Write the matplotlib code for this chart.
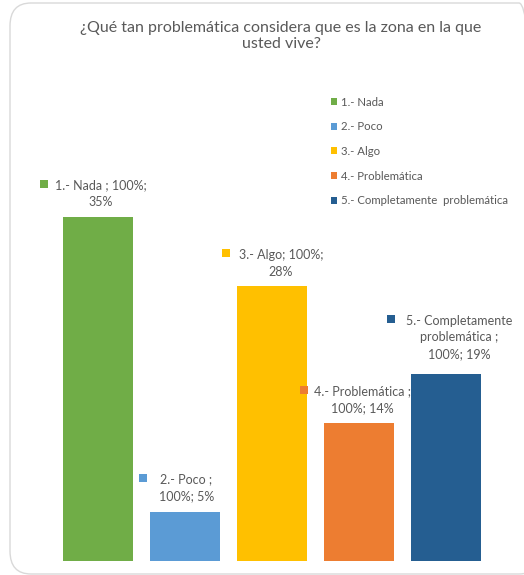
import matplotlib
matplotlib.use("Agg")
import matplotlib.pyplot as plt
from matplotlib.patches import FancyBboxPatch
from matplotlib.transforms import ScaledTranslation

plt.rcParams['font.family'] = ['Lato', 'DejaVu Sans']

categories = ["1.- Nada", "2.- Poco", "3.- Algo", "4.- Problemática", "5.- Completamente  problemática"]
values = [35, 5, 28, 14, 19]
label_texts = [
    "1.- Nada ; 100%;\n35%",
    "2.- Poco ;\n100%; 5%",
    "3.- Algo; 100%;\n28%",
    "4.- Problemática ;\n100%; 14%",
    "5.- Completamente\nproblemática ;\n100%; 19%",
]
title = "¿Qué tan problemática considera que es la zona en la que\nusted vive?"

colors = ["#70AD47", "#5B9BD5", "#FFC000", "#ED7D31", "#255E91"]
text_color = "#595959"

W, H, DPI = 524, 575, 100
fig = plt.figure(figsize=(W / DPI, H / DPI), dpi=DPI)

# outer rounded border
border = FancyBboxPatch((10 / W, 1 - 574 / H), 530 / W, 571 / H,
                        boxstyle="round,pad=0,rounding_size=0.04",
                        transform=fig.transFigure, facecolor="none",
                        edgecolor="#D9D9D9", linewidth=1.0, zorder=-1)
fig.patches.append(border)

ax_left, ax_right = 54.4, 489.4
ax_bottom_px, ax_top_px = 561, 100
ax = fig.add_axes([ax_left / W, 1 - ax_bottom_px / H,
                   (ax_right - ax_left) / W, (ax_bottom_px - ax_top_px) / H])
ax.set_facecolor("none")
x = list(range(len(values)))
bars = ax.bar(x, values, width=0.8, color=colors, zorder=2)
ax.set_xlim(-0.5, len(values) - 0.5)
ax.set_ylim(0, (ax_bottom_px - ax_top_px) / 9.837)
ax.axis("off")

# data label layout (pixels): text center dx, last-line center dy above bar, marker dx
label_dx = [2.5, 1.5, 9, 3.5, 13]
label_dy = [15, 16, 14, 15, 20]
marker_dx = [-54.3, -41.5, -45.6, -55, -55]
pitch = 16.7

for i, (v, t) in enumerate(zip(values, label_texts)):
    lines = t.split("\n")
    n = len(lines)
    for k, line in enumerate(lines):
        dy = label_dy[i] + (n - 1 - k) * pitch
        off = ScaledTranslation(label_dx[i] / DPI, dy / DPI, fig.dpi_scale_trans)
        ax.text(i, v, line, ha="center", va="center", fontsize=9.0, color=text_color,
                transform=ax.transData + off, zorder=3)
    top_dy = label_dy[i] + (n - 1) * pitch + 1.5
    moff = ScaledTranslation(marker_dx[i] / DPI, top_dy / DPI, fig.dpi_scale_trans)
    ax.plot([i], [v], marker="s", markersize=5.8, markeredgewidth=0, color=colors[i],
            linestyle="none", transform=ax.transData + moff, clip_on=False, zorder=3)

fig.text(281 / W, 1 - 36 / H, title, ha="center", va="center", fontsize=11.5,
         color=text_color, linespacing=1.25)

leg = fig.legend(bars, categories, loc="upper left",
                 bbox_to_anchor=(326 / W, 1 - 92 / H), frameon=False,
                 fontsize=8.2, labelcolor=text_color, handlelength=0.6,
                 handleheight=0.6, handletextpad=0.35, labelspacing=1.2,
                 borderaxespad=0)

fig.savefig("out.png", dpi=DPI)
